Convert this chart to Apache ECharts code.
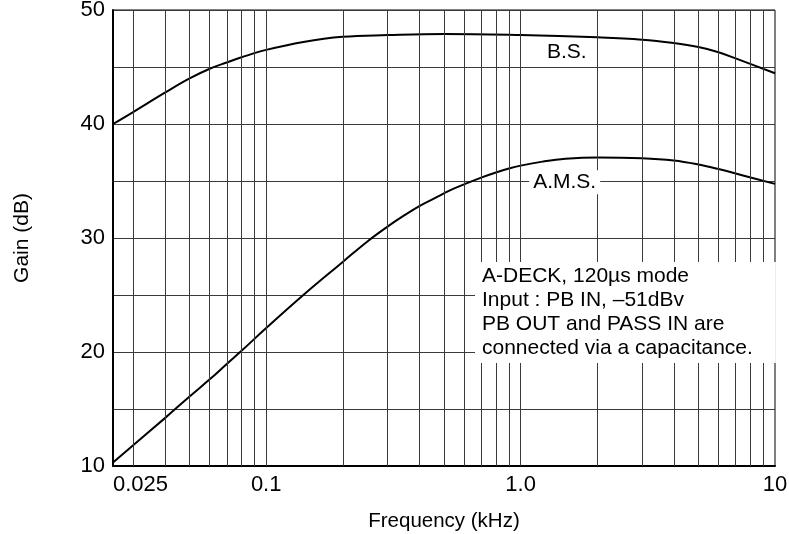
<!DOCTYPE html>
<html>
<head>
<meta charset="utf-8">
<script src="https://cdn.jsdelivr.net/npm/echarts@6/dist/echarts.min.js"></script>
<style>
html,body{margin:0;padding:0;background:#fff;}
#chart{width:789px;height:534px;}
</style>
</head>
<body>
<div id="chart"></div>
<script>
// ---- data ----
const freqBS = [0.025, 0.03, 0.04, 0.05, 0.06, 0.07, 0.08, 0.1, 0.14, 0.2, 0.3, 0.5, 1, 2, 3, 4, 5, 6, 7.3, 10];
const gainBS = [40.0, 41.05, 42.75, 44.0, 44.85, 45.4, 45.85, 46.5, 47.2, 47.65, 47.8, 47.9, 47.8, 47.6, 47.4, 47.1, 46.75, 46.3, 45.6, 44.45];

const freqAMS = [0.025, 0.04, 0.05, 0.06, 0.07, 0.08, 0.1, 0.14, 0.2, 0.25, 0.3, 0.35, 0.4, 0.46, 0.53, 0.6, 0.7, 0.8, 0.9, 1.0, 1.22, 1.5, 2, 3, 4, 5, 6, 7.3, 10];
const gainAMS = [10.3, 14.2, 16.1, 17.6, 18.95, 20.1, 22.1, 25.0, 27.9, 29.7, 31.0, 32.0, 32.8, 33.5, 34.2, 34.7, 35.3, 35.75, 36.1, 36.35, 36.7, 36.95, 37.07, 37.0, 36.8, 36.45, 36.05, 35.55, 34.75];

const xTickValues = [0.025, 0.1, 1, 10];
const xTickLabels = ['0.025', '0.1', '1.0', '10'];
const xGridValues = [0.03, 0.04, 0.05, 0.06, 0.07, 0.08, 0.09, 0.1,
                     0.2, 0.3, 0.4, 0.5, 0.6, 0.7, 0.8, 0.9, 1,
                     2, 3, 4, 5, 6, 7, 8, 9];
const yMin = 10, yMax = 50, yGridStep = 5, yLabelStep = 10;

const noteLines = [
  'A-DECK, 120µs mode',
  'Input : PB IN, –51dBv',
  'PB OUT and PASS IN are',
  'connected via a capacitance.'
];

const FONT = '"Liberation Sans", Arial, Helvetica, sans-serif';
const GRID_COLOR = '#3a3a3a';

const chart = echarts.init(document.getElementById('chart'), null, {renderer: 'canvas'});

function xLabel(v) {
  let best = 0, bd = Infinity;
  xTickValues.forEach((t, i) => {
    const d = Math.abs(Math.log10(v) - Math.log10(t));
    if (d < bd) { bd = d; best = i; }
  });
  return bd < 0.01 ? xTickLabels[best] : '';
}

const option = {
  backgroundColor: '#fff',
  animation: false,
  grid: {
    left: 113, right: 14, top: 10, bottom: 68,
    containLabel: false,
    outerBoundsMode: 'none',
    show: true, borderColor: '#000', borderWidth: 1, backgroundColor: 'transparent'
  },
  xAxis: {
    type: 'log',
    logBase: 10,
    min: xTickValues[0],
    max: xTickValues[xTickValues.length - 1],
    name: 'Frequency (kHz)',
    nameLocation: 'middle',
    nameGap: 45,
    nameTextStyle: {color: '#000', fontSize: 20.5, fontFamily: FONT},
    axisLine: {show: true, onZero: false, lineStyle: {color: '#000', width: 2}},
    axisTick: {show: false},
    splitLine: {show: false},
    minorTick: {show: false},
    minorSplitLine: {show: false},
    axisLabel: {
      color: '#000', fontSize: 22, fontFamily: FONT, margin: 8,
      showMinLabel: true, showMaxLabel: true,
      alignMinLabel: 'left',
      formatter: xLabel
    }
  },
  yAxis: {
    type: 'value',
    min: yMin, max: yMax, interval: yGridStep,
    name: 'Gain (dB)',
    nameLocation: 'middle',
    nameGap: 80,
    nameTextStyle: {color: '#000', fontSize: 21, fontFamily: FONT},
    axisLine: {show: true, lineStyle: {color: '#000', width: 2}},
    axisTick: {show: false},
    splitLine: {show: true, lineStyle: {color: GRID_COLOR, width: 1}},
    axisLabel: {
      color: '#000', fontSize: 22, fontFamily: FONT, margin: 8,
      formatter: v => (v % yLabelStep === 0 ? String(v) : '')
    }
  },
  series: [
    {
      name: 'grid',
      type: 'line',
      data: [],
      z: 1,
      silent: true,
      markLine: {
        silent: true,
        symbol: 'none',
        animation: false,
        label: {show: false},
        lineStyle: {color: GRID_COLOR, width: 1, type: 'solid'},
        data: xGridValues.map(v => ({xAxis: v}))
      }
    },
    {
      name: 'B.S.',
      type: 'line',
      z: 3,
      showSymbol: false,
      smooth: 0.4,
      lineStyle: {color: '#000', width: 2},
      data: freqBS.map((f, i) => [f, gainBS[i]])
    },
    {
      name: 'A.M.S.',
      type: 'line',
      z: 3,
      showSymbol: false,
      smooth: 0.4,
      lineStyle: {color: '#000', width: 2},
      data: freqAMS.map((f, i) => [f, gainAMS[i]]),
      markPoint: {
        symbol: 'circle',
        symbolSize: 0,
        silent: true,
        animation: false,
        label: {
          show: true, position: 'inside', color: '#000',
          fontFamily: FONT, fontSize: 21, backgroundColor: '#fff'
        },
        data: [
          {coord: [1.52, 46.3], value: 'B.S.',
           label: {formatter: 'B.S.', padding: [1, 2, 2, 2]}},
          {coord: [1.49, 34.9], value: 'A.M.S.',
           label: {formatter: 'A.M.S.', padding: [1, 4, 2, 4]}},
          {coord: [0.662, 27.9], value: 'note',
           label: {
             formatter: noteLines.join('\n'),
             align: 'left', verticalAlign: 'top',
             lineHeight: 24, padding: [2, 23, 3, 7]
           }}
        ]
      }
    }
  ]
};

chart.setOption(option);
</script>
</body>
</html>
